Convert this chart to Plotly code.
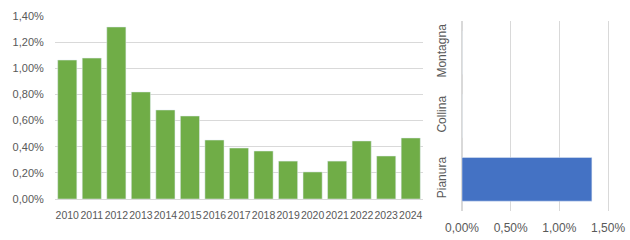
import plotly.graph_objects as go

years = [str(y) for y in range(2010, 2025)]
values = [1.063, 1.078, 1.316, 0.819, 0.681, 0.635, 0.451, 0.390, 0.367, 0.290, 0.207, 0.290, 0.444, 0.329, 0.467]

zones = ["Pianura", "Collina", "Montagna"]
zone_values = [1.334, 0, 0]

W, H = 630, 240
def px(x0, x1):
    return [x0 / W, x1 / W]
def py(top, bottom):
    return [1 - bottom / H, 1 - top / H]

text_color = "#595959"
grid = "#D9D9D9"

fig = go.Figure()
fig.add_trace(go.Bar(x=years, y=values, marker_color="#70AD47", xaxis="x", yaxis="y",
                     hoverinfo="x+y"))
fig.add_trace(go.Bar(y=zones, x=zone_values, orientation="h", marker_color="#4472C4",
                     xaxis="x2", yaxis="y2", width=0.69))

fig.update_layout(
    width=W, height=H, margin=dict(l=0, r=0, t=0, b=0, autoexpand=False),
    paper_bgcolor="white", plot_bgcolor="white", showlegend=False,
    separators=",.",
    font=dict(family="Liberation Sans, Arial, sans-serif", color=text_color, size=11),
    bargap=0.22,
    xaxis=dict(domain=px(55, 423), anchor="y", type="category", showgrid=False,
               showline=False, ticks="outside", ticklen=6, tickcolor="rgba(0,0,0,0)",
               tickangle=0, automargin=False,
               tickfont=dict(size=10.5, color=text_color)),
    yaxis=dict(domain=py(16, 199), anchor="x", range=[0, 1.4], dtick=0.2,
               tickformat=".2f", ticksuffix="%", showgrid=True, gridcolor=grid, gridwidth=1,
               zeroline=True, zerolinecolor=grid, zerolinewidth=1, showline=False,
               ticks="outside", ticklen=8, tickcolor="rgba(0,0,0,0)", automargin=False,
               tickfont=dict(size=11, color=text_color)),
    xaxis2=dict(domain=px(462, 610), anchor="y2", range=[0, 1.52], dtick=0.5,
                tickformat=".2f", ticksuffix="%", showgrid=True, gridcolor=grid,
                zeroline=True, zerolinecolor=grid, showline=False, automargin=False,
                ticks="outside", ticklen=6, tickcolor="rgba(0,0,0,0)",
                tickfont=dict(size=12, color=text_color)),
    yaxis2=dict(domain=py(21, 211), anchor="x2", type="category", showgrid=False,
                showline=False, tickangle=-90, ticks="outside", ticklen=10, automargin=False,
                tickcolor="rgba(0,0,0,0)", tickfont=dict(size=12, color=text_color)),
)

fig.write_html("out.html")
